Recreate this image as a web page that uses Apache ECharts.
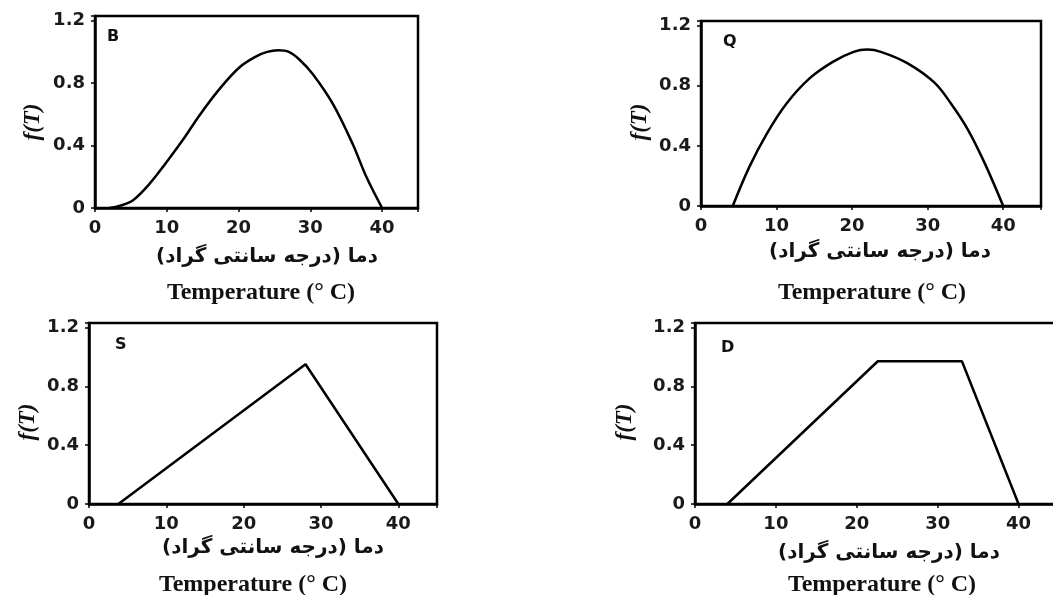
<!DOCTYPE html>
<html>
<head>
<meta charset="utf-8">
<script src="https://cdn.jsdelivr.net/npm/echarts@6/dist/echarts.min.js"></script>
<style>
  html, body { margin: 0; padding: 0; background: #fff; }
  #chart { width: 1053px; height: 595px; }
</style>
</head>
<body>
<div id="chart"></div>
<script>
// ---- data ----
var panelNames = ['B', 'Q', 'S', 'D'];

var dataB = [[2, 0], [3.5, 0.015], [5.3, 0.05], [7.5, 0.15], [9.9, 0.29], [12.3, 0.44],
  [14.5, 0.59], [17.3, 0.76], [20.1, 0.9], [22.4, 0.97], [24, 1.0], [25.5, 1.01],
  [27, 1.0], [28.5, 0.95], [30.3, 0.86], [33.1, 0.67], [35.9, 0.41], [37.8, 0.2], [40, 0]];
var dataQ = [[4.2, 0], [6.4, 0.26], [8.7, 0.48], [11.3, 0.68], [14.4, 0.85], [17.5, 0.96],
  [20.2, 1.025], [22, 1.04], [23.8, 1.025], [27.3, 0.95], [30.9, 0.82], [33.1, 0.68],
  [35.3, 0.51], [37.5, 0.29], [40, 0]];
var dataS = [[3.8, 0], [28, 0.95], [40, 0]];
var dataD = [[4, 0], [22.6, 0.97], [33, 0.97], [40, 0]];

var xTicks = [0, 10, 20, 30, 40];
var yTicks = [0, 0.4, 0.8, 1.2];

var xTitleFa = '\u200Fدما (درجه سانتی گراد)\u200F';
var xTitleEn = 'Temperature (° C)';
var yTitle = 'f(T)';

// ---- layout ----
var grids = [
  { left: 95,  top: 16,  width: 323, height: 192 },
  { left: 701, top: 21,  width: 340, height: 185 },
  { left: 89,  top: 323, width: 348, height: 181 },
  { left: 695, top: 323, width: 364, height: 181 }
];
var faPos = [[267, 257], [880, 252], [273, 548], [889, 553]];
var enPos = [[261, 293], [872, 293], [253, 585], [882, 585]];
var yNamePos = [[33, 122], [640, 122], [28, 422], [625, 422]];
var letterPos = [[107, 37], [723, 42], [115, 345], [721, 348]];

var series = [dataB, dataQ, dataS, dataD];
var smooth = [true, true, false, false];

var chart = echarts.init(document.getElementById('chart'));

function pick(list) {
  return function (v) {
    for (var i = 0; i < list.length; i++) {
      if (Math.abs(v - list[i]) < 1e-6) return String(list[i]);
    }
    return '';
  };
}

var option = {
  animation: false,
  backgroundColor: '#fff',
  grid: grids.map(function (g) {
    return {
      left: g.left, top: g.top, width: g.width, height: g.height,
      outerBoundsMode: 'none', containLabel: false,
      show: true, borderColor: '#000', borderWidth: 2.5, backgroundColor: 'transparent'
    };
  }),
  xAxis: grids.map(function (g, i) {
    return {
      type: 'value', gridIndex: i, min: 0, max: 45, interval: 10,
      axisLine: { show: true, onZero: false, lineStyle: { color: '#000', width: 2.5 } },
      axisTick: { show: true, length: 4, lineStyle: { color: '#000', width: 1.5 } },
      splitLine: { show: false },
      axisLabel: {
        margin: 11, color: '#1a1a1a', fontFamily: 'DejaVu Sans', fontWeight: 'bold', fontSize: 18,
        formatter: pick(xTicks)
      }
    };
  }),
  yAxis: grids.map(function (g, i) {
    return {
      type: 'value', gridIndex: i, min: 0, max: 1.23, interval: 0.4,
      axisLine: { show: true, onZero: false, lineStyle: { color: '#000', width: 2.5 } },
      axisTick: { show: true, length: 4, lineStyle: { color: '#000', width: 1.5 } },
      splitLine: { show: false },
      axisLabel: {
        margin: 10, color: '#1a1a1a', fontFamily: 'DejaVu Sans', fontWeight: 'bold', fontSize: 18,
        formatter: pick(yTicks)
      }
    };
  }),
  series: series.map(function (d, i) {
    return {
      type: 'line', xAxisIndex: i, yAxisIndex: i, data: d,
      smooth: smooth[i] ? 0.35 : false, showSymbol: false, symbol: 'none',
      lineStyle: { color: '#000', width: 2.5 }
    };
  }),
  graphic: []
};

for (var i = 0; i < 4; i++) {
  option.graphic.push({
    type: 'text', x: faPos[i][0], y: faPos[i][1],
    style: { text: xTitleFa, font: 'bold 20px "DejaVu Sans"', fill: '#111', align: 'center', verticalAlign: 'middle' }
  });
  option.graphic.push({
    type: 'text', x: enPos[i][0], y: enPos[i][1],
    style: { text: xTitleEn, font: 'bold 24px "Liberation Serif"', fill: '#111', align: 'center', verticalAlign: 'middle' }
  });
  option.graphic.push({
    type: 'text', x: yNamePos[i][0], y: yNamePos[i][1], rotation: Math.PI / 2,
    style: { text: yTitle, font: 'italic bold 23px "Liberation Serif"', fill: '#111', align: 'center', verticalAlign: 'middle' }
  });
  option.graphic.push({
    type: 'text', x: letterPos[i][0], y: letterPos[i][1],
    style: { text: panelNames[i], font: 'bold 16px "DejaVu Sans"', fill: '#111', align: 'left', verticalAlign: 'middle' }
  });
}

chart.setOption(option);
</script>
</body>
</html>
